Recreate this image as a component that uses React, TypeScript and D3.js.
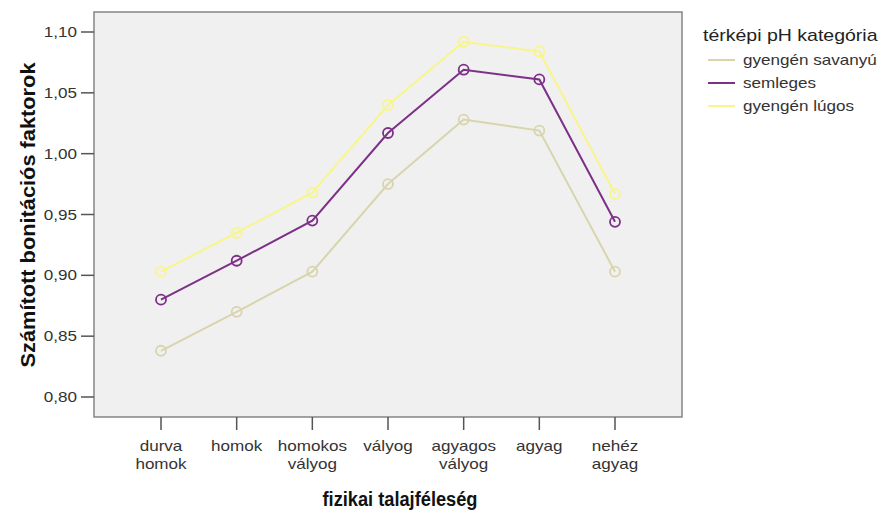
import React from "react";
import * as d3 from "d3";

const categories: string[][] = [
  ["durva", "homok"],
  ["homok"],
  ["homokos", "vályog"],
  ["vályog"],
  ["agyagos", "vályog"],
  ["agyag"],
  ["nehéz", "agyag"],
];
const seriesNames = ["gyengén savanyú", "semleges", "gyengén lúgos"];
const savanyu = [0.838, 0.870, 0.903, 0.975, 1.028, 1.019, 0.903];
const semleges = [0.880, 0.912, 0.945, 1.017, 1.069, 1.061, 0.944];
const lugos = [0.903, 0.935, 0.968, 1.040, 1.092, 1.084, 0.967];
const yTicks = [0.8, 0.85, 0.9, 0.95, 1.0, 1.05, 1.1];
const colors = ["#d8d5ad", "#7d3087", "#f7f58c"];

const SX = 1.22;

function T(props: {
  x: number; y: number; size: number; anchor?: string; fill?: string; dy?: string; children: React.ReactNode;
}) {
  const { x, y, size, anchor = "start", fill = "#333", dy, children } = props;
  return (
    <g transform={`translate(${x},${y}) scale(${SX},1)`}>
      <text x={0} y={0} dy={dy} textAnchor={anchor} fontSize={size} fill={fill}>
        {children}
      </text>
    </g>
  );
}

export default function App() {
  const W = 878, H = 514;
  const left = 94, right = 682, top = 12, bottom = 417;
  const x = d3.scalePoint<number>().domain(d3.range(categories.length)).range([161, 615]);
  const y = d3.scaleLinear().domain([0.8, 1.1]).range([397, 32]);
  const series = [savanyu, semleges, lugos];
  const line = d3.line<number>().x((_, i) => x(i)!).y((d) => y(d));
  const font = "'Liberation Sans', Arial, sans-serif";
  const order = [0, 2, 1];
  return (
    <svg width={W} height={H} style={{ position: "absolute", left: 0, top: 0 }} fontFamily={font}>
      <rect x={0} y={0} width={W} height={H} fill="#ffffff" />
      <rect x={left} y={top} width={right - left} height={bottom - top} fill="#f0f0f0" stroke="#858585" strokeWidth={1.5} />
      {yTicks.map((t) => (
        <g key={t}>
          <line x1={left - 13} x2={left} y1={y(t)} y2={y(t)} stroke="#555" strokeWidth={1.5} />
          <T x={77} y={y(t)} dy="0.36em" anchor="end" size={14}>
            {t.toFixed(2).replace(".", ",")}
          </T>
        </g>
      ))}
      {categories.map((c, i) => (
        <g key={i}>
          <line x1={x(i)} x2={x(i)} y1={bottom} y2={bottom + 13} stroke="#555" strokeWidth={1.5} />
          {c.map((s, j) => (
            <T key={j} x={x(i)!} y={451 + j * 18} anchor="middle" size={14}>
              {s}
            </T>
          ))}
        </g>
      ))}
      {order.map((k) => (
        <g key={k}>
          <path d={line(series[k])!} fill="none" stroke={colors[k]} strokeWidth={2} />
          {series[k].map((v, i) => (
            <circle key={i} cx={x(i)} cy={y(v)} r={5} fill="none" stroke={colors[k]} strokeWidth={1.8} />
          ))}
        </g>
      ))}
      <text
        transform={`translate(35,215) rotate(-90)`}
        textAnchor="middle"
        fontSize={21}
        fontWeight="bold"
        fill="#111"
        textLength={305}
        lengthAdjust="spacingAndGlyphs"
      >
        Számított bonitációs faktorok
      </text>
      <text
        x={400}
        y={506}
        textAnchor="middle"
        fontSize={20}
        fontWeight="bold"
        fill="#111"
        textLength={155}
        lengthAdjust="spacingAndGlyphs"
      >
        fizikai talajféleség
      </text>
      <T x={703} y={41} size={16} fill="#222">térképi pH kategória</T>
      {seriesNames.map((n, i) => (
        <g key={n}>
          <line x1={708} x2={735} y1={60 + i * 23} y2={60 + i * 23} stroke={colors[i]} strokeWidth={2} />
          <T x={743} y={60 + i * 23} dy="0.36em" size={14}>{n}</T>
        </g>
      ))}
    </svg>
  );
}
